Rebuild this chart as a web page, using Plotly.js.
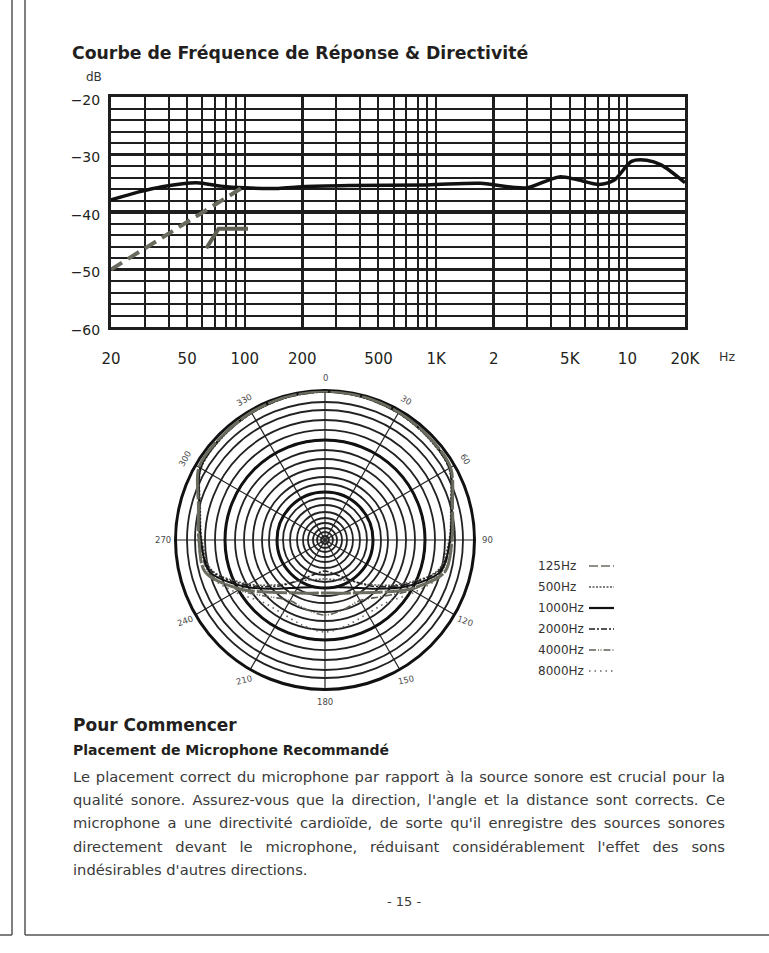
<!DOCTYPE html>
<html><head><meta charset="utf-8">
<script src="https://cdn.plot.ly/plotly-3.0.1.min.js"></script>
<style>
html,body{margin:0;padding:0;background:#fff;}
#page{position:relative;width:769px;height:953px;overflow:hidden;background:#fff;}
#chart{position:absolute;left:0;top:0;width:769px;height:953px;}
.t{position:absolute;font-family:"DejaVu Sans";color:#2a2a2a;white-space:nowrap;}
.h1{left:73px;top:714px;font-size:17px;font-weight:bold;color:#231f20;line-height:22px;}
.h2{left:73px;top:740px;font-size:14px;font-weight:bold;color:#231f20;line-height:20px;}
.ln{left:73px;width:652px;font-size:14.7px;line-height:24px;text-align:justify;text-align-last:justify;color:#3a3a3a;}
.ln.last{text-align-last:left;}
.pg{left:354px;width:100px;text-align:center;font-size:13px;line-height:20px;top:892px;color:#3a3a3a;}
</style></head><body>
<div id="page">
<div id="chart"></div>
<div class="t h1">Pour Commencer</div>
<div class="t h2">Placement de Microphone Recommandé</div>
<div class="t ln" style="top:765px">Le placement correct du microphone par rapport à la source sonore est crucial pour la</div>
<div class="t ln" style="top:788px">qualité sonore. Assurez-vous que la direction, l'angle et la distance sont corrects. Ce</div>
<div class="t ln" style="top:811px">microphone a une directivité cardioïde, de sorte qu'il enregistre des sources sonores</div>
<div class="t ln" style="top:835px">directement devant le microphone, réduisant considérablement l'effet des sons</div>
<div class="t ln last" style="top:858px">indésirables d'autres directions.</div>
<div class="t pg">- 15 -</div>
</div>
<script>
// ---------- frequency response data ----------
const respFreq = [20, 28, 37, 56, 75, 100, 150, 200, 350, 900, 1700, 2500, 3000, 4400, 5500, 7100, 8500, 10500, 12600, 15000, 20000];
const respDb   = [-37.9, -36.5, -35.6, -34.9, -35.5, -35.8, -35.9, -35.6, -35.4, -35.3, -35.0, -35.7, -35.8, -33.9, -34.4, -35.2, -34.5, -31.2, -31.0, -31.8, -34.9];
const lowCutFreq = [20, 100];
const lowCutDb   = [-50.0, -35.5];
const shelfFreq = [63, 73, 104];
const shelfDb   = [-46.3, -42.9, -42.9];

const xTickVals = [20, 50, 100, 200, 500, 1000, 2000, 5000, 10000, 20000];
const xTickText = ['20', '50', '100', '200', '500', '1K', '2', '5K', '10', '20K'];
const xMajorGrid = [20, 200, 2000, 20000];
const xMinorGrid = [30, 40, 50, 60, 70, 80, 90, 100, 300, 400, 500, 600, 700, 800, 900, 1000, 3000, 4000, 5000, 6000, 7000, 8000, 9000, 10000];
const yTickVals = [-60, -50, -40, -30, -20];
const yTickText = ['\u221260', '\u221250', '\u221240', '\u221230', '\u221220'];
const yMinorGrid = [-58, -56, -54, -52, -48, -46, -44, -42, -38, -36, -34, -32, -28, -26, -24, -22];

// ---------- polar pattern data ----------
const thetaDeg = [0, 15, 30, 45, 60, 75, 90, 105, 120, 135, 150, 165, 180, 195, 210, 225, 240, 255, 270, 285, 300, 315, 330, 345, 360];
const r125  = [149, 148.5, 147.5, 146.5, 145, 132, 127, 124, 98, 74, 61, 55, 53, 55, 61, 74, 98, 124, 126, 131, 145.5, 146.5, 147.5, 148.5, 149];
const r500  = [148, 147.5, 146.5, 145, 143, 130, 124, 117, 88, 63, 47, 41, 39, 41, 47, 63, 88, 117, 123, 129, 143, 145, 146.5, 147.5, 148];
const r1000 = [148.5, 148, 147, 146, 144, 131, 125, 120, 93, 69, 55, 49, 48, 49, 55, 69, 93, 120, 124, 130, 144, 146, 147, 148, 148.5];
const r2000 = [148, 147.5, 146.5, 145.5, 143.5, 131, 126, 118, 90, 65, 45, 35, 31, 35, 45, 65, 90, 118, 125, 130, 143.5, 145.5, 146.5, 147.5, 148];
const r4000 = [148, 147.5, 146.5, 145.5, 144, 131, 125, 121, 100, 80, 70, 72, 75, 72, 70, 80, 100, 121, 125, 130, 144, 145.5, 146.5, 147.5, 148];
const r8000 = [148, 147.5, 146.5, 145.5, 144, 132, 128, 124, 104, 88, 85, 88, 92, 88, 85, 88, 104, 124, 127, 131, 144, 145.5, 146.5, 147.5, 148];
const ringRadii = [4, 8, 12, 17, 22, 28, 35, 42, 48, 56, 63, 72, 81, 90, 100, 110, 120, 130, 138];
const thickRings = [48, 100];
const angleLabels = ['0', '30', '60', '90', '120', '150', '180', '210', '240', '270', '300', '330'];
const angleLabelDeg = [0, 30, 60, 90, 120, 150, 180, 210, 240, 270, 300, 330];
const angleLabelTilt = [0, 30, 60, 0, 20, -12, 0, -15, -20, 0, -60, -30];

const seriesNames = ['125Hz', '500Hz', '1000Hz', '2000Hz', '4000Hz', '8000Hz'];
const seriesR = [r125, r500, r1000, r2000, r4000, r8000];
const seriesColor = ['#6b6b5f', '#555550', '#111111', '#1e1e1e', '#5f5f55', '#666660'];
const seriesWidth = [3, 1.4, 2, 1.6, 1.6, 1.6];
const seriesDash = ['30px,2px', '2px,1.5px', 'solid', '6px,2px,2px,2px', '7px,2px,1px,1.5px,1px,2px', '1.5px,4px'];
const legendDash = ['9px,3px', '2px,1.5px', 'solid', '6px,2px,2px,2px', '7px,2px,1px,1.5px,1px,2px', '1.5px,4px'];
// which polar layer each series sits on (the base layer carries the fine grid)
const seriesLayer = ['polar2', 'polar2', 'polar2', 'polar2', 'polar2', 'polar'];
const drawOrder = [5, 1, 3, 4, 2, 0];

// ---------- page geometry ----------
const W = 769, H = 953;
const px = v => v / W, py = v => 1 - v / H;
const polarC = {x: 325, y: 540, r: 149.5};
const labelR = 162;
const ink = '#1e1e1e';
const FONT = 'DejaVu Sans';

const traces = [
  {x: respFreq, y: respDb, type: 'scatter', mode: 'lines', xaxis: 'x', yaxis: 'y',
   line: {color: '#111', width: 3.5, shape: 'spline', smoothing: 0.8}, hoverinfo: 'skip', showlegend: false},
  {x: lowCutFreq, y: lowCutDb, type: 'scatter', mode: 'lines', xaxis: 'x', yaxis: 'y',
   line: {color: '#6a6a5e', width: 4, dash: '13px,7px'}, hoverinfo: 'skip', showlegend: false},
  {x: shelfFreq, y: shelfDb, type: 'scatter', mode: 'lines', xaxis: 'x2', yaxis: 'y',
   line: {color: '#5e5e52', width: 4}, hoverinfo: 'skip', showlegend: false}
];
drawOrder.forEach(i => {
  traces.push({type: 'scatterpolar', subplot: seriesLayer[i], name: seriesNames[i], theta: thetaDeg, r: seriesR[i], mode: 'lines',
    line: {color: seriesColor[i], width: seriesWidth[i], dash: seriesDash[i], shape: 'spline', smoothing: 0.9},
    hoverinfo: 'skip', showlegend: false});
});

const annotations = [
  {text: 'dB', x: px(94), y: py(77), xref: 'paper', yref: 'paper', xanchor: 'center', yanchor: 'middle', showarrow: false, font: {family: FONT, size: 12, color: '#333'}},
  {text: 'Hz', x: px(727), y: py(357), xref: 'paper', yref: 'paper', xanchor: 'center', yanchor: 'middle', showarrow: false, font: {family: FONT, size: 12.5, color: '#333'}}
];
angleLabels.forEach((t, i) => {
  const a = angleLabelDeg[i] * Math.PI / 180;
  annotations.push({text: t, xref: 'paper', yref: 'paper', showarrow: false, xanchor: 'center', yanchor: 'middle',
    x: px(polarC.x + labelR * Math.sin(a)), y: py(polarC.y - labelR * Math.cos(a)),
    textangle: angleLabelTilt[i], font: {family: FONT, size: 8.5, color: '#4a4a4a'}});
});

const legendX = 536, legendY0 = 566, legendStep = 21, swX0 = 589, swX1 = 614;
const shapes = [
  {type: 'line', xref: 'paper', yref: 'paper', x0: px(12), x1: px(12), y0: py(0), y1: py(935), line: {color: '#555', width: 1.5}},
  {type: 'line', xref: 'paper', yref: 'paper', x0: px(0), x1: px(12), y0: py(935), y1: py(935), line: {color: '#555', width: 1.5}},
  {type: 'line', xref: 'paper', yref: 'paper', x0: px(25), x1: px(25), y0: py(0), y1: py(935), line: {color: '#555', width: 1.5}},
  {type: 'line', xref: 'paper', yref: 'paper', x0: px(25), x1: px(769), y0: py(935), y1: py(935), line: {color: '#555', width: 1.5}}
];
seriesNames.forEach((n, i) => {
  const yy = legendY0 + i * legendStep;
  annotations.push({text: n, xref: 'paper', yref: 'paper', x: px(legendX), y: py(yy), xanchor: 'left', yanchor: 'middle',
    showarrow: false, font: {family: FONT, size: 12, color: '#333'}});
  shapes.push({type: 'line', xref: 'paper', yref: 'paper', x0: px(swX0), x1: px(swX1), y0: py(yy), y1: py(yy),
    line: {color: seriesColor[i], width: i === 2 ? 2.2 : 1.6, dash: legendDash[i]}});
});

const logRange = [Math.log10(20), Math.log10(20000)];
const polarDomain = {x: [px(polarC.x - polarC.r), px(polarC.x + polarC.r)], y: [py(polarC.y + polarC.r), py(polarC.y - polarC.r)]};
const layout = {
  width: W, height: H, margin: {l: 0, r: 0, t: 0, b: 0}, paper_bgcolor: '#fff', plot_bgcolor: 'rgba(0,0,0,0)',
  showlegend: false,
  title: {text: 'Courbe de Fréquence de Réponse & Directivité', x: px(72), xanchor: 'left', xref: 'paper',
          y: py(53), yanchor: 'middle', yref: 'paper', font: {family: FONT, size: 17.3, weight: 700, color: '#231f20'}},
  xaxis: {type: 'log', range: logRange, domain: [px(111), px(685)], anchor: 'y',
          tickvals: xMajorGrid, showticklabels: false, ticks: '', showgrid: true, gridcolor: ink, gridwidth: 3.2,
          showline: true, mirror: true, linecolor: ink, linewidth: 3, zeroline: false, fixedrange: true,
          minor: {tickvals: xMinorGrid, showgrid: true, gridcolor: ink, gridwidth: 2, ticks: ''}},
  xaxis2: {type: 'log', range: logRange, overlaying: 'x', anchor: 'y', side: 'bottom',
           tickvals: xTickVals, ticktext: xTickText, showgrid: false, showline: false, zeroline: false,
           ticks: 'outside', ticklen: 18, tickcolor: 'rgba(0,0,0,0)', fixedrange: true,
           tickfont: {family: FONT, size: 15, color: '#231f20'}},
  yaxis: {range: [-60, -20], domain: [py(327), py(97)], anchor: 'x',
          tickvals: yTickVals, ticktext: yTickText, showgrid: true, gridcolor: ink, gridwidth: 3.2,
          showline: true, mirror: true, linecolor: ink, linewidth: 3, zeroline: false, fixedrange: true,
          ticks: 'outside', ticklen: 5, tickcolor: 'rgba(0,0,0,0)', ticklabelshift: 3,
          tickfont: {family: FONT, size: 14, color: '#231f20'},
          minor: {tickvals: yMinorGrid, showgrid: true, gridcolor: ink, gridwidth: 2, ticks: ''}},
  polar: {domain: polarDomain, bgcolor: '#fff',
          angularaxis: {rotation: 90, direction: 'clockwise', tickmode: 'linear', tick0: 0, dtick: 30,
                        showgrid: true, gridcolor: '#222', gridwidth: 1.2, showticklabels: false, ticks: '',
                        showline: true, linecolor: '#111', linewidth: 3},
          radialaxis: {range: [0, 149.5], tickvals: ringRadii, showgrid: true, gridcolor: '#222', gridwidth: 1.8,
                       showticklabels: false, ticks: '', showline: false}},
  polar2: {domain: polarDomain, bgcolor: 'rgba(0,0,0,0)',
           angularaxis: {rotation: 90, direction: 'clockwise', showgrid: false, showticklabels: false, ticks: '', showline: false},
           radialaxis: {range: [0, 149.5], tickvals: thickRings, showgrid: true, gridcolor: '#111', gridwidth: 3,
                        showticklabels: false, ticks: '', showline: false}},
  annotations: annotations,
  shapes: shapes
};
Plotly.newPlot('chart', traces, layout, {staticPlot: true, displayModeBar: false});
</script>
</body></html>
